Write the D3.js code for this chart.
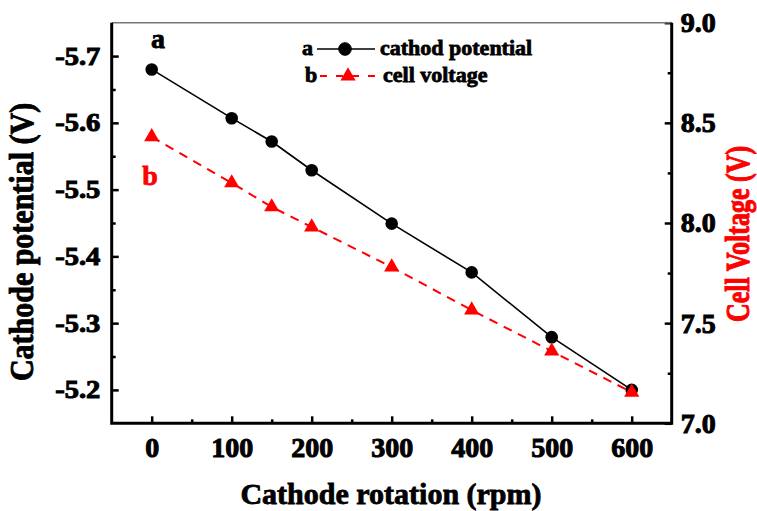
<!DOCTYPE html>
<head>
  <meta charset="utf-8">
  <title>Cathode potential and cell voltage vs cathode rotation</title>
  <script src="https://d3js.org/d3.v7.min.js"></script>
  <style>
    body { margin: 0; background: #fff; }
    svg { font-family: "Liberation Serif", "Times New Roman", serif; font-weight: bold; }
    svg text { stroke-width: 0.8px; }
    .axis .domain { display: none; }
    .axis line { stroke: #000; stroke-width: 2.5px; }
    .axis text { fill: #000; stroke: #000; stroke-width: 1px; font-weight: bold; font-family: "Liberation Serif", "Times New Roman", serif; }
    .frame { stroke: #000; stroke-width: 3px; fill: none; }
    .top-line { stroke: #777; stroke-width: 1.5px; }
    .line-a { stroke: #000; stroke-width: 1.6px; fill: none; }
    .line-b { stroke: #ff0000; stroke-width: 2px; fill: none; stroke-dasharray: 9,7; }
  </style>
</head>
<body>
<script>
  // data
  var rotation = [0, 100, 150, 200, 300, 400, 500, 600];
  var cathodePotential = [-5.68, -5.607, -5.572, -5.529, -5.449, -5.376, -5.279, -5.2];
  var cellVoltage = [8.43, 8.20, 8.08, 7.98, 7.78, 7.565, 7.36, 7.155];

  var xTicks = [0, 100, 200, 300, 400, 500, 600];
  var xMinor = [50, 150, 250, 350, 450, 550];
  var yLeftTicks = [-5.7, -5.6, -5.5, -5.4, -5.3, -5.2];
  var yLeftMinor = [-5.65, -5.55, -5.45, -5.35, -5.25];
  var yRightTicks = [7.0, 7.5, 8.0, 8.5, 9.0];
  var yRightMinor = [7.25, 7.75, 8.25, 8.75];

  var width = 757, height = 511;
  var plot = {left: 111.7, right: 671.7, top: 22.7, bottom: 423.3};

  var svg = d3.select("body").append("svg")
      .attr("width", width)
      .attr("height", height);

  var x = d3.scaleLinear().domain([-50, 650]).range([plot.left, plot.right]);
  var yL = d3.scaleLinear().domain([-5.75, -5.15]).range([plot.top, plot.bottom]);
  var yR = d3.scaleLinear().domain([9.0, 7.0]).range([plot.top, plot.bottom]);

  // plain hyphen instead of unicode minus, like the original
  var fmt1 = function(d) { return d.toFixed(1); };

  // axes (ticks inward)
  var gx = svg.append("g").attr("class", "axis")
      .attr("transform", "translate(0," + plot.bottom + ")")
      .call(d3.axisBottom(x).tickValues(xTicks).tickSizeInner(-7).tickSizeOuter(0).tickPadding(14));
  gx.selectAll("text").style("font-size", "28px");
  svg.append("g").attr("class", "axis")
      .attr("transform", "translate(0," + plot.bottom + ")")
      .call(d3.axisBottom(x).tickValues(xMinor).tickSizeInner(-4).tickSizeOuter(0).tickFormat(""));

  var gl = svg.append("g").attr("class", "axis")
      .attr("transform", "translate(" + plot.left + ",0)")
      .call(d3.axisLeft(yL).tickValues(yLeftTicks).tickSizeInner(-7).tickSizeOuter(0).tickPadding(10)
        .tickFormat(fmt1));
  gl.selectAll("text").style("font-size", "25px").attr("transform", "scale(1.14,1)");
  svg.append("g").attr("class", "axis")
      .attr("transform", "translate(" + plot.left + ",0)")
      .call(d3.axisLeft(yL).tickValues(yLeftMinor).tickSizeInner(-4).tickSizeOuter(0).tickFormat(""));

  var gr = svg.append("g").attr("class", "axis")
      .attr("transform", "translate(" + plot.right + ",0)")
      .call(d3.axisRight(yR).tickValues(yRightTicks).tickSizeInner(-7).tickSizeOuter(0).tickPadding(9)
        .tickFormat(fmt1));
  gr.selectAll("text").style("font-size", "28px");
  svg.append("g").attr("class", "axis")
      .attr("transform", "translate(" + plot.right + ",0)")
      .call(d3.axisRight(yR).tickValues(yRightMinor).tickSizeInner(-4).tickSizeOuter(0).tickFormat(""));

  // frame: thin grey top, heavy left/bottom/right
  svg.append("line").attr("class", "top-line")
      .attr("x1", plot.left).attr("x2", plot.right)
      .attr("y1", plot.top).attr("y2", plot.top);
  svg.append("path").attr("class", "frame")
      .attr("d", "M" + plot.left + "," + plot.top + "V" + plot.bottom + "H" + plot.right + "V" + plot.top);

  // series
  var ptsA = rotation.map(function(r, i) { return [x(r), yL(cathodePotential[i])]; });
  var ptsB = rotation.map(function(r, i) { return [x(r), yR(cellVoltage[i])]; });

  svg.append("path").attr("class", "line-a").attr("d", d3.line()(ptsA));
  svg.selectAll(".dot-a").data(ptsA).enter().append("circle")
      .attr("class", "dot-a")
      .attr("cx", function(d) { return d[0]; })
      .attr("cy", function(d) { return d[1]; })
      .attr("r", 6.3)
      .attr("fill", "#000");

  svg.append("path").attr("class", "line-b").attr("d", d3.line()(ptsB));
  var tri = d3.symbol().type(d3.symbolTriangle).size(100);
  svg.selectAll(".tri-b").data(ptsB).enter().append("path")
      .attr("class", "tri-b")
      .attr("d", tri)
      .attr("transform", function(d) { return "translate(" + d[0] + "," + d[1] + ")"; })
      .attr("fill", "#ff0000");

  // curve labels
  svg.append("text").attr("x", 158).attr("y", 48).attr("text-anchor", "middle")
      .style("font-size", "28px").attr("fill", "#000").attr("stroke", "#000").text("a");
  svg.append("text").attr("x", 150).attr("y", 185).attr("text-anchor", "middle")
      .style("font-size", "28px").attr("fill", "#ff0000").attr("stroke", "#ff0000").text("b");

  // legend
  var legend = svg.append("g").style("font-size", "22px").attr("stroke", "#000");
  legend.append("text").attr("x", 302).attr("y", 55).text("a");
  legend.append("line").attr("class", "line-a")
      .attr("x1", 317).attr("x2", 375).attr("y1", 49).attr("y2", 49);
  legend.append("circle").attr("cx", 345).attr("cy", 49).attr("r", 6.3).attr("fill", "#000");
  legend.append("text").attr("x", 380).attr("y", 55).text("cathod potential");

  legend.append("text").attr("x", 305).attr("y", 82).text("b");
  legend.append("line").attr("class", "line-b")
      .style("stroke-dasharray", "7,9")
      .attr("x1", 320).attr("x2", 378).attr("y1", 76).attr("y2", 76);
  legend.append("path").attr("d", tri).attr("fill", "#ff0000").attr("stroke", "none")
      .attr("transform", "translate(348,76)");
  legend.append("text").attr("x", 383).attr("y", 82).text("cell voltage");

  // axis titles
  svg.append("text").attr("text-anchor", "middle")
      .attr("x", 391).attr("y", 504).attr("stroke", "#000")
      .style("font-size", "30px").text("Cathode rotation (rpm)");
  svg.append("text").attr("text-anchor", "middle")
      .attr("transform", "translate(33,242) scale(1.13,1) rotate(-90)").attr("stroke", "#000")
      .style("font-size", "30px").text("Cathode potential (V)");
  svg.append("text").attr("text-anchor", "middle")
      .attr("transform", "translate(749,234) scale(1.3,1) rotate(-90)")
      .attr("fill", "#ff0000").attr("stroke", "#ff0000")
      .style("font-size", "26px").text("Cell Voltage (V)");
</script>
</body>
